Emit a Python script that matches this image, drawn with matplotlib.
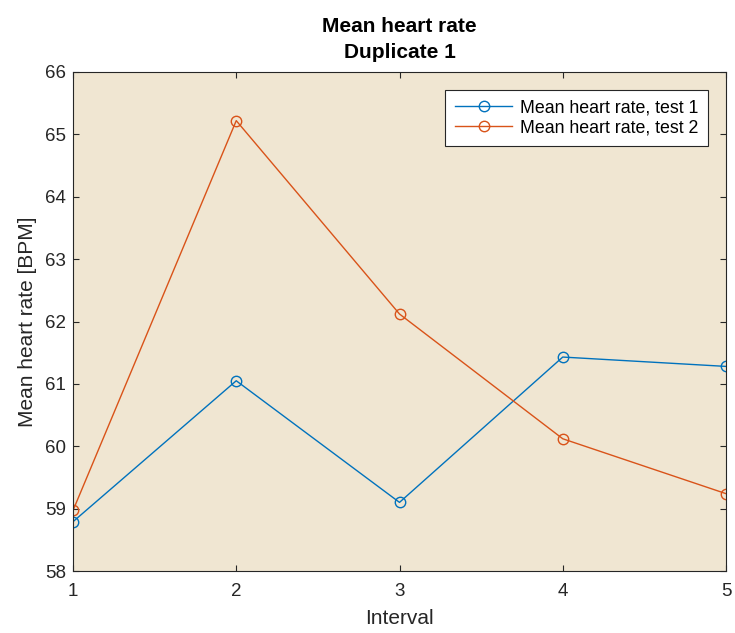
import numpy as np
import matplotlib.pyplot as plt

plt.rcParams['font.family'] = ['Liberation Sans', 'DejaVu Sans']

# Data
interval = [1, 2, 3, 4, 5]
hr_test1 = [58.79, 61.05, 59.10, 61.43, 61.28]
hr_test2 = [58.97, 65.22, 62.12, 60.12, 59.24]

fig = plt.figure(figsize=(7.35, 6.33), dpi=100)
fig.patch.set_facecolor("white")
# axes box: x 73..726 px, y 72..571 px
ax = fig.add_axes([73 / 735, (633 - 571) / 633, (726 - 73) / 735, (571 - 72) / 633])
ax.set_facecolor("#f0e6d2")

ax.plot(interval, hr_test1, color="#0072BD", lw=1, marker="o", ms=7.5,
        mfc="none", mew=1, label="Mean heart rate, test 1")
ax.plot(interval, hr_test2, color="#D95319", lw=1, marker="o", ms=7.5,
        mfc="none", mew=1, label="Mean heart rate, test 2")

ax.set_xlim(1, 5)
ax.set_ylim(58, 66)
ax.set_xticks(interval)
ax.set_yticks(np.arange(58, 67, 1))
ax.tick_params(direction="in", top=True, right=True, length=4, width=0.8,
               labelsize=13.5, colors="#262626")
ax.tick_params(axis="x", pad=9)
ax.tick_params(axis="y", pad=5)
for s in ax.spines.values():
    s.set_color("#262626")
    s.set_linewidth(0.8)

ax.set_xlabel("Interval", fontsize=15, color="#262626", labelpad=6)
ax.set_ylabel("Mean heart rate [BPM]", fontsize=15, color="#262626", labelpad=6)
ax.set_title("Mean heart rate\nDuplicate 1", fontsize=15, fontweight="bold",
             color="black", linespacing=1.5, pad=10)

leg = ax.legend(loc="upper right", fontsize=12.8, fancybox=False,
                edgecolor="#262626", framealpha=1, borderaxespad=1.0,
                handlelength=3.2, handletextpad=0.45, borderpad=0.55,
                labelspacing=0.15)
leg.get_frame().set_linewidth(0.8)

fig.savefig("out.png", dpi=100)
